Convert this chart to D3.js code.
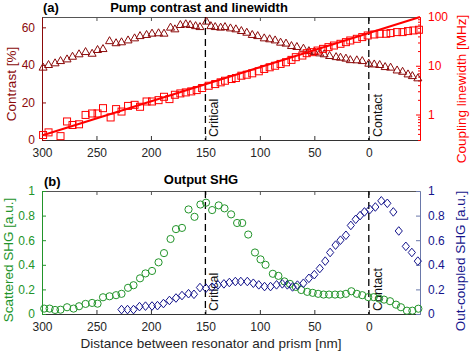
<!DOCTYPE html>
<html>
<head>
<meta charset="utf-8">
<script src="https://cdn.jsdelivr.net/npm/d3@7"></script>
<style>
body { margin: 0; background: #fff; }
svg text { font-family: "Liberation Sans", Arial, sans-serif; }
</style>
</head>
<body>
<div id="chart"></div>
<script>
/* ---------- data ---------- */
// (a) pump contrast [%]
const contrastDist = [299,294,288,283,277,272,266,260,254,249,244,238,232,227,221,215,210,204,199,193,188,182,178,173,168,164,159,155,149,145,141,136,132,127,122,117,112,107,102,96,91,86,81,76,71,66,60,55,50,45,41,36,30,26,21,17,11,6,0,-5,-10,-15,-20,-26,-31,-36,-40,-45];
const contrastVal  = [38.8,40.2,41.1,42.3,43.2,44.6,45.9,47.1,46.2,48.2,48.7,52.9,51.8,52.3,53.3,54.4,55.6,56.2,56.9,57.1,56.9,60.1,59.2,61.5,61.9,61.5,60.9,60.4,63.3,60.9,60.4,60.1,60.4,59.7,59.2,58.3,57.4,56.2,55.6,54.4,53.9,53.3,52.1,51.6,50.3,49.8,48.9,47.6,47.1,46.4,45.9,45.0,44.4,44.1,43.6,42.8,42.7,42.3,40.9,40.5,40.2,39.1,38.8,37.3,36.6,35.2,34.3,33.1];

// (a) coupling linewidth [MHz]
const lwDist = [299,294,283,277,272,266,260,254,249,244,237,232,227,221,215,210,204,199,193,188,183,178,173,168,163,158,153,147,141,136,132,126,122,117,112,107,101,96,91,86,81,76,71,67,61,57,52,47,42,37,32,26,21,17,11,6,1,-5,-10,-16,-20,-26,-31,-36,-41,-46];
const lwVal  = [0.38,0.43,0.36,0.72,0.61,0.63,0.98,1.05,1.05,1.35,0.87,1.29,1.15,1.5,1.58,1.44,1.85,1.85,1.97,2.31,2.07,2.54,2.71,2.84,2.98,3.17,3.49,3.89,4.21,4.57,4.93,5.34,5.6,6.25,6.55,7.0,7.7,8.6,9.3,10.0,10.9,11.8,13.2,15.0,16.2,18.1,19.0,20.5,22.2,24.1,26.0,28.2,30.5,33.0,35.7,38.7,41.8,43.8,45.3,45.3,46.8,49.0,49.0,51.4,53.0,54.7];

// exponential fit (straight on the log axis), end points
const fitDist = [300, -47];
const fitVal  = [0.37, 100];

// (b) scattered SHG [a.u.]
const scatDist = [298,293,288,283,277,271,266,260,254,249,244,238,232,227,221,216,210,205,199,193,188,182,177,171.5,165.5,160,154.6,149.4,143.8,137.8,132.5,126.4,120.9,116.2,110.7,104.5,99.4,94.8,88.1,83,77.5,72.4,67,62,56.5,51.5,46.5,41.5,36.5,31,26,21,16,11,6,0.5,-4.5,-9.5,-14,-19.5,-25,-29.5,-35,-40,-45.5];
const scatVal  = [0.044,0.044,0.033,0.035,0.055,0.044,0.063,0.082,0.09,0.084,0.136,0.144,0.153,0.164,0.213,0.234,0.29,0.33,0.35,0.42,0.495,0.61,0.69,0.70,0.85,0.79,0.89,0.905,0.845,0.883,0.859,0.81,0.74,0.74,0.646,0.50,0.444,0.40,0.327,0.31,0.265,0.245,0.22,0.195,0.18,0.172,0.164,0.158,0.158,0.158,0.158,0.164,0.185,0.164,0.153,0.137,0.137,0.125,0.117,0.104,0.076,0.055,0.027,0.027,0.043];

// (b) out-coupled SHG [a.u.]
const outDist = [227,221.5,216,210.5,205,199,194,188.5,183,177,171.5,165.5,160.5,155,149.5,144,138.5,133,128,122.5,117.5,111.5,106,101,95.7,90.2,84.7,79.4,74.8,70,65.5,60,55,50,45,40,35.5,30.5,26,21,16.5,12,8,4,-1,-6,-11.5,-17,-22.5,-27.5,-34,-39.5,-45];
const outVal  = [0.036,0.036,0.036,0.06,0.064,0.065,0.068,0.085,0.11,0.13,0.15,0.165,0.16,0.215,0.21,0.218,0.237,0.245,0.256,0.264,0.264,0.264,0.25,0.237,0.223,0.223,0.237,0.245,0.237,0.22,0.235,0.25,0.29,0.32,0.37,0.43,0.50,0.56,0.60,0.64,0.72,0.77,0.80,0.83,0.85,0.87,0.92,0.90,0.83,0.675,0.55,0.50,0.43];

// ticks and marker lines
const xTicks = [300, 250, 200, 150, 100, 50, 0];
const contrastTicks = [0, 20, 40, 60];
const lwTicks = [1, 10, 100];
const lwMinor = [0.3,0.4,0.5,0.6,0.7,0.8,0.9,2,3,4,5,6,7,8,9,20,30,40,50,60,70,80,90];
const shgTicks = [0, 0.2, 0.4, 0.6, 0.8, 1];
const markDist = [150, 0];
const markText = ['Critical', 'Contact'];

/* ---------- colours ---------- */
const C_CONTRAST = '#8b0a0a';
const C_LW = '#ff0000';
const C_SCAT = '#22942a';
const C_OUT = '#15158c';
const C_OUT_AXIS = '#6a78aa';
const C_TEXT = '#262626';

const W = 470, H = 354;
const svg = d3.select('#chart').append('svg')
    .attr('width', W).attr('height', H);

const x = d3.scaleLinear().domain([300, -47]).range([42, 420]);
const A = { top: 17, bottom: 140 };
const B = { top: 191, bottom: 314 };

const yContrast = d3.scaleLinear().domain([0, 65.5]).range([A.bottom, A.top]);
const yLw = d3.scaleLog().domain([0.3, 100]).range([A.bottom, A.top]);
const yShg = d3.scaleLinear().domain([0, 1]).range([B.bottom, B.top]);

function styleAxis(g, color, textColor) {
    g.selectAll('path, line').attr('stroke', color);
    g.selectAll('text').attr('fill', textColor || color).style('font-size', '12px');
}

function drawPanel(p) {
    // top edge ticks + line
    svg.append('g').attr('transform', `translate(0,${p.top})`)
        .call(d3.axisTop(x).tickValues(xTicks).tickSize(-4).tickSizeOuter(0).tickFormat(''))
        .call(g => styleAxis(g, '#555'));
    // bottom axis
    svg.append('g').attr('transform', `translate(0,${p.bottom})`)
        .call(d3.axisBottom(x).tickValues(xTicks).tickSize(-4).tickSizeOuter(0).tickPadding(8))
        .call(g => styleAxis(g, '#333', C_TEXT));
    // dashed reference lines
    markDist.forEach((d, i) => {
        svg.append('line')
            .attr('x1', x(d)).attr('x2', x(d))
            .attr('y1', p.top).attr('y2', p.bottom)
            .attr('stroke', '#000').attr('stroke-width', 1.3)
            .attr('stroke-dasharray', '7,4');
        svg.append('text')
            .attr('transform', `translate(${x(d) + 13},${p.bottom - 3}) rotate(-90)`)
            .attr('fill', '#111')
            .style('font-size', '12.5px')
            .text(markText[i]);
    });
}

drawPanel(A);
drawPanel(B);

/* ---------- panel (a) ---------- */
svg.append('g').attr('transform', `translate(42,0)`)
    .call(d3.axisLeft(yContrast).tickValues(contrastTicks).tickSize(-4).tickSizeOuter(0).tickPadding(7))
    .call(g => styleAxis(g, C_CONTRAST));

svg.append('g').attr('transform', `translate(420,0)`)
    .call(d3.axisRight(yLw).tickValues(lwMinor).tickSize(-2).tickSizeOuter(0).tickFormat(''))
    .call(g => styleAxis(g, C_LW));
svg.append('g').attr('transform', `translate(420,0)`)
    .call(d3.axisRight(yLw).tickValues(lwTicks).tickSize(-4).tickSizeOuter(0).tickPadding(8).tickFormat(d3.format('d')))
    .call(g => styleAxis(g, C_LW));

const triangle = 'M-4,3L0,-4L4,3Z';
svg.append('g').selectAll('path')
    .data(contrastDist.map((d, i) => [d, contrastVal[i]]))
    .join('path')
    .attr('transform', d => `translate(${x(d[0])},${yContrast(d[1])})`)
    .attr('d', triangle)
    .attr('fill', 'none').attr('stroke', C_CONTRAST).attr('stroke-width', 1);

svg.append('g').selectAll('rect')
    .data(lwDist.map((d, i) => [d, lwVal[i]]))
    .join('rect')
    .attr('x', d => x(d[0]) - 3.5).attr('y', d => yLw(d[1]) - 3.5)
    .attr('width', 7).attr('height', 7)
    .attr('fill', 'none').attr('stroke', C_LW).attr('stroke-width', 1);

svg.append('path')
    .datum(fitDist.map((d, i) => [d, fitVal[i]]))
    .attr('d', d3.line().x(d => x(d[0])).y(d => yLw(d[1])))
    .attr('fill', 'none').attr('stroke', C_LW).attr('stroke-width', 2);

/* ---------- panel (b) ---------- */
svg.append('g').attr('transform', `translate(42,0)`)
    .call(d3.axisLeft(yShg).tickValues(shgTicks).tickSize(-4).tickSizeOuter(0).tickPadding(7)
        .tickFormat(d => d === 0 || d === 1 ? d : d3.format('.1f')(d)))
    .call(g => styleAxis(g, C_SCAT));

svg.append('g').attr('transform', `translate(420,0)`)
    .call(d3.axisRight(yShg).tickValues(shgTicks).tickSize(-4).tickSizeOuter(0).tickPadding(8)
        .tickFormat(d => d === 0 || d === 1 ? d : d3.format('.1f')(d)))
    .call(g => styleAxis(g, C_OUT_AXIS, C_OUT));

svg.append('g').selectAll('circle')
    .data(scatDist.map((d, i) => [d, scatVal[i]]))
    .join('circle')
    .attr('cx', d => x(d[0])).attr('cy', d => yShg(d[1])).attr('r', 3.6)
    .attr('fill', 'none').attr('stroke', C_SCAT).attr('stroke-width', 1);

const diamond = 'M0,-4.3L3.6,0L0,4.3L-3.6,0Z';
svg.append('g').selectAll('path')
    .data(outDist.map((d, i) => [d, outVal[i]]))
    .join('path')
    .attr('transform', d => `translate(${x(d[0])},${yShg(d[1])})`)
    .attr('d', diamond)
    .attr('fill', 'none').attr('stroke', C_OUT).attr('stroke-width', 1);

/* ---------- titles and axis labels ---------- */
function label(txt, xPos, yPos, opts) {
    const t = svg.append('text')
        .attr('fill', opts.color || '#000')
        .style('font-size', (opts.size || 13) + 'px')
        .style('font-weight', opts.bold ? 'bold' : 'normal')
        .attr('text-anchor', opts.anchor || 'middle')
        .text(txt);
    if (opts.rotate) t.attr('transform', `translate(${xPos},${yPos}) rotate(-90)`);
    else t.attr('x', xPos).attr('y', yPos);
}

label('(a)', 43, 12, { bold: true, anchor: 'start' });
label('Pump contrast and linewidth', 199, 12, { bold: true });
label('(b)', 44, 186, { bold: true, anchor: 'start' });
label('Output SHG', 201, 184, { bold: true });

label('Contrast [%]', 16, 84, { rotate: true, color: C_CONTRAST, size: 13.5 });
label('Coupling linewidth [MHz]', 466, 89, { rotate: true, color: C_LW, size: 13.5 });
label('Scattered SHG [a.u.]', 13, 260, { rotate: true, color: C_SCAT, size: 13.5 });
label('Out-coupled SHG [a.u.]', 465, 261, { rotate: true, color: C_OUT, size: 13.5 });
label('Distance between resonator and prism [nm]', 211, 348, { color: C_TEXT, size: 13.5 });
</script>
</body>
</html>
